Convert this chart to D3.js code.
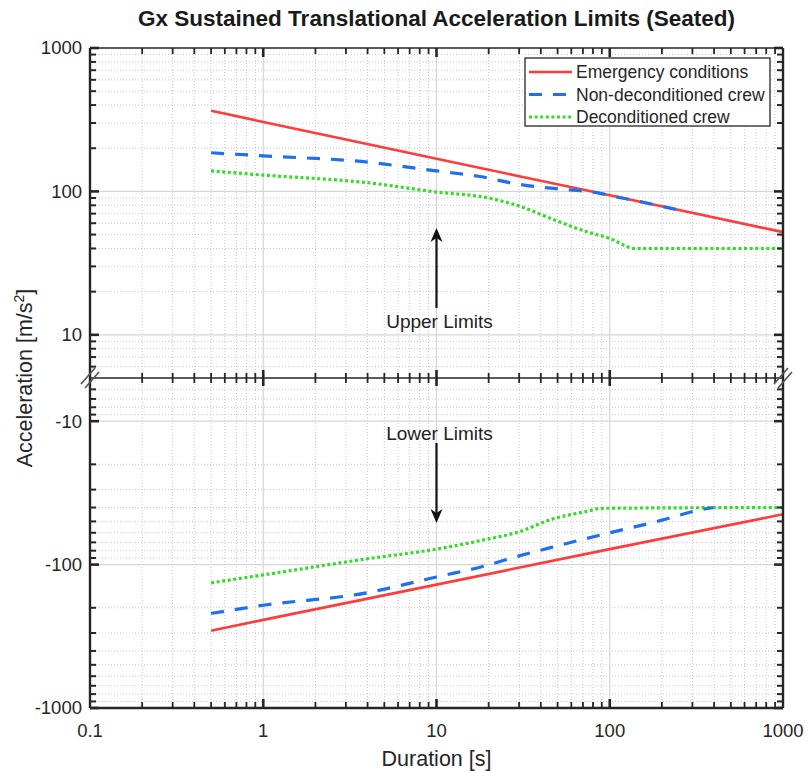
<!DOCTYPE html>
<html><head><meta charset="utf-8">
<script src="https://cdn.jsdelivr.net/npm/d3@7"></script>
<style>body{margin:0;background:#fff}svg{display:block;font-family:"Liberation Sans",Arial,Helvetica,sans-serif}</style>
</head><body><svg id="c" width="808" height="771"></svg>
<script>
const title = "Gx Sustained Translational Acceleration Limits (Seated)";
const xLabel = "Duration [s]";
const xTickValues = [0.1, 1, 10, 100, 1000];
const xTickLabels = ["0.1", "1", "10", "100", "1000"];
const upperTickValues = [10, 100, 1000];
const upperTickLabels = ["10", "100", "1000"];
const lowerTickValues = [10, 100, 1000];
const lowerTickLabels = ["-10", "-100", "-1000"];
const seriesNames = ["Emergency conditions", "Non-deconditioned crew", "Deconditioned crew"];
const seriesColors = ["#ff3b3b", "#1f6ff0", "#35dd2a"];

const emergencyUpperT = [0.5, 1, 10, 100, 1000];
const emergencyUpperV = [365, 305, 169, 94, 52];
const nonDecondUpperT = [0.5, 1, 4, 8, 10, 17.8, 30, 51, 70, 88, 100, 150, 200, 260];
const nonDecondUpperV = [186, 177, 160, 144, 139, 127, 112, 104, 100.5, 97, 93.7, 84.8, 78.7, 73.4];
const decondUpperT = [0.5, 1, 4, 10, 20, 30, 50, 75, 100, 140, 1000];
const decondUpperV = [139, 130, 115, 99, 90, 79, 62, 52, 47, 40, 40];

const emergencyLowerT = [0.5, 1, 10, 100, 1000];
const emergencyLowerV = [-289, -243, -138, -78, -44.6];
const nonDecondLowerT = [0.5, 1, 4, 8, 10, 18, 30, 50, 100, 200, 318, 396];
const nonDecondLowerV = [-219, -192, -157, -130, -122, -104, -87, -74, -60, -49, -42, -40];
const decondLowerT = [0.5, 1, 4, 10, 18, 30, 47, 74, 90, 1000];
const decondLowerV = [-134, -118, -91, -78, -68, -59, -48, -42.5, -40.5, -40];

const annotUpper = {text: "Upper Limits", t: 10, textV: 12.5, from: 15.4, to: 55.6};
const annotLower = {text: "Lower Limits", t: 10, textV: -12.1, from: -14.2, to: -51.3};

const svg = d3.select("#c");
const L = 90, R = 783, T = 48, B = 708, M = 378;
const x = d3.scaleLog().domain([0.1, 1000]).range([L, R]);
const yU = d3.scaleLog().domain([5, 1000]).range([M, T]);
const yLm = d3.scaleLog().domain([5, 1000]).range([M, B]);
const yL = v => yLm(Math.abs(v));
const ink = "#262626";

// grid
const minorX = [];
[0.1, 1, 10, 100].forEach(d => { for (let k = 2; k <= 9; k++) minorX.push(d * k); });
const majorX = [1, 10, 100];
const minorY = [6, 7, 8, 9];
[10, 100].forEach(d => { for (let k = 2; k <= 9; k++) minorY.push(d * k); });
const majorY = [10, 100];

const g = svg.append("g");
g.selectAll(".mgx").data(minorX).join("line")
  .attr("x1", d => x(d)).attr("x2", d => x(d)).attr("y1", T).attr("y2", B)
  .attr("stroke", "#c8c8c8").attr("stroke-width", 1).attr("stroke-dasharray", "1,2");
[yU, yLm].forEach(s => {
  g.append("g").selectAll("line").data(minorY).join("line")
    .attr("x1", L).attr("x2", R).attr("y1", d => s(d)).attr("y2", d => s(d))
    .attr("stroke", "#c8c8c8").attr("stroke-width", 1).attr("stroke-dasharray", "1,2");
  g.append("g").selectAll("line").data(majorY).join("line")
    .attr("x1", L).attr("x2", R).attr("y1", d => s(d)).attr("y2", d => s(d))
    .attr("stroke", "#d6d6d6").attr("stroke-width", 1.2);
});
g.selectAll(".Mgx").data(majorX).join("line")
  .attr("x1", d => x(d)).attr("x2", d => x(d)).attr("y1", T).attr("y2", B)
  .attr("stroke", "#d6d6d6").attr("stroke-width", 1.2);

// data lines
const mk = (ts, vs) => ts.map((t, i) => ({t, v: vs[i]}));
const lineU = d3.line().curve(d3.curveMonotoneX).x(d => x(d.t)).y(d => yU(d.v));
const lineL = d3.line().curve(d3.curveMonotoneX).x(d => x(d.t)).y(d => yL(d.v));
const styles = [
  {w: 2.6, dash: null},
  {w: 3.2, dash: "13,11"},
  {w: 3.2, dash: "3,2.6"}
];
const upperSets = [mk(emergencyUpperT, emergencyUpperV), mk(nonDecondUpperT, nonDecondUpperV), mk(decondUpperT, decondUpperV)];
const lowerSets = [mk(emergencyLowerT, emergencyLowerV), mk(nonDecondLowerT, nonDecondLowerV), mk(decondLowerT, decondLowerV)];
const lg = svg.append("g");
[2, 0, 1].forEach(i => {
  [[upperSets[i], lineU], [lowerSets[i], lineL]].forEach(([data, gen]) => {
    lg.append("path").attr("d", gen(data)).attr("fill", "none")
      .attr("stroke", seriesColors[i]).attr("stroke-width", styles[i].w)
      .attr("stroke-dasharray", styles[i].dash);
  });
});

// axes frame
const ax = svg.append("g").attr("stroke", ink);
ax.append("line").attr("x1", L).attr("x2", R).attr("y1", T).attr("y2", T).attr("stroke-width", 1.3);
ax.append("line").attr("x1", L).attr("x2", R).attr("y1", B).attr("y2", B).attr("stroke-width", 2.4);
ax.append("line").attr("x1", L).attr("x2", L).attr("y1", T).attr("y2", B).attr("stroke-width", 2.4);
ax.append("line").attr("x1", R).attr("x2", R).attr("y1", T).attr("y2", B).attr("stroke-width", 2.4);
ax.append("line").attr("x1", L).attr("x2", R).attr("y1", M).attr("y2", M).attr("stroke-width", 1.7);

// x ticks (top, bottom, break line)
const xTicksAll = minorX.map(v => ({v, major: false})).concat(majorX.map(v => ({v, major: true})));
xTicksAll.forEach(d => {
  const len = d.major ? 9 : 6, w = d.major ? 2.6 : 1.8;
  const px = x(d.v);
  ax.append("line").attr("x1", px).attr("x2", px).attr("y1", T).attr("y2", T + len).attr("stroke-width", w);
  ax.append("line").attr("x1", px).attr("x2", px).attr("y1", B).attr("y2", B - len).attr("stroke-width", w);
  ax.append("line").attr("x1", px).attr("x2", px).attr("y1", M - len + 1).attr("y2", M + len - 1).attr("stroke-width", w);
});
// y ticks (left, right)
const yTicksAll = minorY.map(v => ({v, major: false})).concat([10, 100, 1000].map(v => ({v, major: true})));
[yU, yLm].forEach(s => {
  yTicksAll.forEach(d => {
    const len = d.major ? 9 : 6, w = d.major ? 2.6 : 2;
    const py = s(d.v);
    ax.append("line").attr("x1", L).attr("x2", L + len).attr("y1", py).attr("y2", py).attr("stroke-width", w);
    ax.append("line").attr("x1", R).attr("x2", R - len).attr("y1", py).attr("y2", py).attr("stroke-width", w);
  });
});

// break marks
[L, R].forEach(px => {
  const bg = svg.append("g").attr("stroke", "#555").attr("stroke-width", 1.6);
  bg.append("line").attr("x1", px - 9).attr("y1", M + 6).attr("x2", px + 5).attr("y2", M - 10);
  bg.append("line").attr("x1", px - 5).attr("y1", M + 10).attr("x2", px + 9).attr("y2", M - 6);
});

// tick labels
const fs = 18.5;
const tl = svg.append("g").attr("fill", ink).attr("font-size", fs);
xTickValues.forEach((v, i) => {
  tl.append("text").attr("x", x(v)).attr("y", 737).attr("text-anchor", "middle").text(xTickLabels[i]);
});
upperTickValues.forEach((v, i) => {
  tl.append("text").attr("x", 82).attr("y", yU(v)).attr("dy", "0.35em").attr("text-anchor", "end").text(upperTickLabels[i]);
});
lowerTickValues.forEach((v, i) => {
  tl.append("text").attr("x", 82).attr("y", yLm(v)).attr("dy", "0.35em").attr("text-anchor", "end").text(lowerTickLabels[i]);
});

// axis labels
const fl = 21.5;
svg.append("text").attr("x", (L + R) / 2).attr("y", 766).attr("text-anchor", "middle")
  .attr("font-size", fl).attr("fill", ink).text(xLabel);
const yl = svg.append("text").attr("transform", `translate(32,${M}) rotate(-90)`).attr("text-anchor", "middle")
  .attr("font-size", fl).attr("fill", ink);
yl.append("tspan").text("Acceleration [m/s");
yl.append("tspan").attr("font-size", 14).attr("dy", -8).text("2");
yl.append("tspan").attr("dy", 8).text("]");

// title
svg.append("text").attr("x", (L + R) / 2).attr("y", 26).attr("text-anchor", "middle")
  .attr("font-size", 22.5).attr("font-weight", "bold").attr("fill", "#1a1a1a").text(title);

// annotations
function arrow(a, ys) {
  const px = x(a.t);
  const y0 = ys(a.from), y1 = ys(a.to);
  const dir = y1 < y0 ? -1 : 1;
  svg.append("line").attr("x1", px).attr("x2", px).attr("y1", y0).attr("y2", y1 - dir * 8)
    .attr("stroke", "#111").attr("stroke-width", 2.2);
  const p = d3.path();
  p.moveTo(px, y1);
  p.lineTo(px - 6, y1 - dir * 14);
  p.lineTo(px, y1 - dir * 10);
  p.lineTo(px + 6, y1 - dir * 14);
  p.closePath();
  svg.append("path").attr("d", p.toString()).attr("fill", "#111");
  svg.append("text").attr("x", px + 3).attr("y", ys(a.textV)).attr("dy", "0.35em")
    .attr("text-anchor", "middle").attr("font-size", 19).attr("fill", "#222").text(a.text);
}
arrow(annotUpper, yU);
arrow(annotLower, yL);

// legend
const leg = svg.append("g");
leg.append("rect").attr("x", 525).attr("y", 58).attr("width", 245).attr("height", 68)
  .attr("fill", "#fff").attr("stroke", ink).attr("stroke-width", 1.3);
seriesNames.forEach((n, i) => {
  const ry = 72 + i * 22.5;
  leg.append("line").attr("x1", 529).attr("x2", 572).attr("y1", ry).attr("y2", ry)
    .attr("stroke", seriesColors[i]).attr("stroke-width", styles[i].w).attr("stroke-dasharray", styles[i].dash);
  leg.append("text").attr("x", 576).attr("y", ry).attr("dy", "0.35em").attr("font-size", 17.5)
    .attr("fill", ink).text(n);
});
</script></body></html>
